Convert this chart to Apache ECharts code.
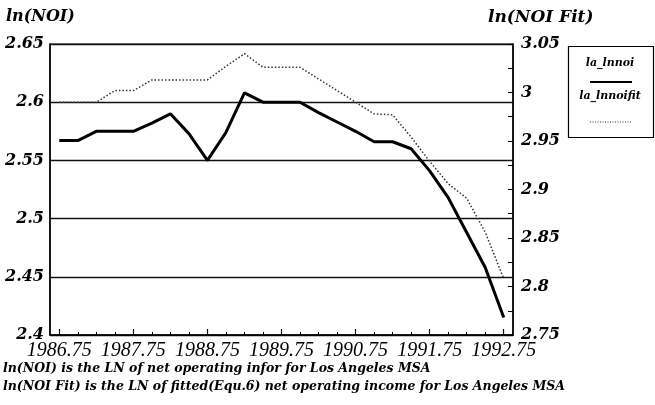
<!DOCTYPE html>
<html>
<head>
<meta charset="utf-8">
<script src="https://cdn.jsdelivr.net/npm/echarts@6/dist/echarts.min.js"></script>
<style>
html,body{margin:0;padding:0;background:#fff;}
#c{width:655px;height:405px;}
</style>
</head>
<body>
<div id="c"></div>
<script>
// Quarterly categories
var quarters = ['1986.75','1987','1987.25','1987.5','1987.75','1988','1988.25','1988.5','1988.75','1989','1989.25','1989.5','1989.75','1990','1990.25','1990.5','1990.75','1991','1991.25','1991.5','1991.75','1992','1992.25','1992.5','1992.75'];
// ln(NOI) actual (left axis)
var laLnnoi = [2.567,2.567,2.575,2.575,2.575,2.582,2.590,2.573,2.550,2.574,2.608,2.600,2.600,2.600,2.591,2.583,2.575,2.566,2.566,2.560,2.541,2.518,2.488,2.458,2.415];
// ln(NOI Fit) fitted (right axis)
var laLnnoifit = [2.990,2.990,2.990,3.002,3.002,3.013,3.013,3.013,3.013,3.027,3.040,3.026,3.026,3.026,3.014,3.002,2.990,2.978,2.977,2.954,2.929,2.906,2.891,2.856,2.808];
var leftTicks = [2.4,2.65,0.05];
var rightTicks = [2.75,3.05,0.05];
var seriesNames = ['la_lnnoi','la_lnnoifit'];
var titleLeft = 'ln(NOI)';
var titleRight = 'ln(NOI Fit)';
var notes = ['ln(NOI) is the LN of net operating infor for Los Angeles MSA',
             'ln(NOI Fit) is the LN of fitted(Equ.6) net operating income for Los Angeles MSA'];

var BI = 'bold italic';
var SERIF = '"DejaVu Serif", serif';
var chart = echarts.init(document.getElementById('c'));
function fmt(v){ return String(+(+v).toFixed(3)); }
var option = {
  animation:false,
  backgroundColor:'#fff',
  grid:{left:50,right:142,top:44,bottom:70,show:true,borderColor:'#000',borderWidth:1.2,backgroundColor:'transparent'},
  xAxis:[{
    type:'category', data:quarters, boundaryGap:true,
    axisLine:{show:true,lineStyle:{color:'#000',width:1.5}},
    axisTick:{show:true,alignWithLabel:true,interval:0,inside:true,length:3,lineStyle:{color:'#000',width:1}},
    axisLabel:{interval:3,color:'#000',fontFamily:'"Liberation Serif", serif',fontStyle:'italic',fontSize:20,margin:6},
    splitLine:{show:false}
  },{
    type:'category', data:quarters, boundaryGap:true, position:'bottom',
    axisLine:{show:false},
    axisTick:{show:true,alignWithLabel:true,interval:3,inside:true,length:6,lineStyle:{color:'#000',width:1.2}},
    axisLabel:{show:false}, splitLine:{show:false}
  }],
  yAxis:[{
    type:'value', min:leftTicks[0], max:leftTicks[1], interval:leftTicks[2], position:'left',
    axisLine:{show:true,lineStyle:{color:'#000',width:1.5}},
    axisTick:{show:false},
    axisLabel:{color:'#000',fontFamily:SERIF,fontStyle:'italic',fontWeight:'bold',fontSize:16,margin:6,formatter:fmt},
    splitLine:{show:true,lineStyle:{color:'#111',width:1.4}}
  },{
    type:'value', min:rightTicks[0], max:rightTicks[1], interval:rightTicks[2], position:'right',
    axisLine:{show:true,lineStyle:{color:'#000',width:1.5}},
    axisTick:{show:true,inside:true,length:5,lineStyle:{color:'#000',width:1}},
    minorTick:{show:true,splitNumber:2,length:5,lineStyle:{color:'#000',width:1}},
    axisLabel:{color:'#000',fontFamily:SERIF,fontStyle:'italic',fontWeight:'bold',fontSize:16,margin:8,formatter:fmt},
    splitLine:{show:false}
  }],
  series:[{
    name:seriesNames[0], type:'line', xAxisIndex:0, yAxisIndex:0, data:laLnnoi,
    symbol:'none', lineStyle:{color:'#000',width:3}, z:5
  },{
    name:seriesNames[1], type:'line', xAxisIndex:0, yAxisIndex:1, data:laLnnoifit,
    symbol:'none', lineStyle:{color:'#333',width:1.5,type:[1.5,2]}, z:4
  }],
  graphic:[
    {type:'text',left:6,top:9,style:{text:titleLeft,font:BI+' 16px '+SERIF,fill:'#000'}},
    {type:'text',left:488,top:9,style:{text:titleRight,font:BI+' 17px '+SERIF,fill:'#000'}},
    {type:'rect',shape:{x:568.5,y:46.5,width:85,height:91},style:{fill:'#fff',stroke:'#000',lineWidth:1.2}},
    {type:'text',x:610,y:63,style:{text:seriesNames[0],font:BI+' 11px '+SERIF,fill:'#000',align:'center',verticalAlign:'middle'}},
    {type:'line',shape:{x1:590,y1:82,x2:632,y2:82},style:{stroke:'#000',lineWidth:2}},
    {type:'text',x:610,y:96,style:{text:seriesNames[1],font:BI+' 11px '+SERIF,fill:'#000',align:'center',verticalAlign:'middle'}},
    {type:'line',shape:{x1:590,y1:122,x2:632,y2:122},style:{stroke:'#333',lineWidth:1,lineDash:[1,1.5]}},
    {type:'text',left:3,top:362,style:{text:notes[0],font:BI+' 12.5px '+SERIF,fill:'#000'}},
    {type:'text',left:3,top:380,style:{text:notes[1],font:BI+' 12.5px '+SERIF,fill:'#000'}}
  ]
};
chart.setOption(option);
</script>
</body>
</html>
